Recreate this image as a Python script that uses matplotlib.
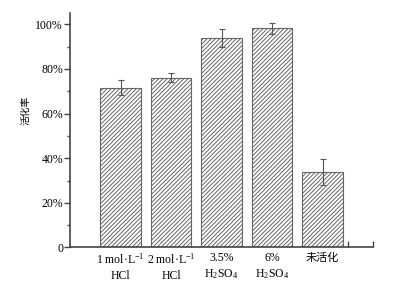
import matplotlib as mpl
mpl.use('Agg')
import matplotlib.pyplot as plt

plt.rcParams['font.family'] = ['Liberation Serif', 'Noto Sans CJK SC']
plt.rcParams['mathtext.fontset'] = 'custom'
plt.rcParams['mathtext.rm'] = 'Liberation Serif'
plt.rcParams['mathtext.it'] = 'Liberation Serif'
plt.rcParams['hatch.color'] = '#707070'
plt.rcParams['hatch.linewidth'] = 0.7

# data (percent)
labels = ['1 mol·L$^{-1}$\nHCl', '2 mol·L$^{-1}$\nHCl',
          '3.5%\nH$_2$SO$_4$', '6%\nH$_2$SO$_4$', '未活化']
rates = [71.5, 76.1, 94.0, 98.1, 33.8]
errs = [3.4, 2.2, 4.0, 2.6, 6.0]
positions = [1, 2, 3, 4, 5]
ytick_vals = [0, 20, 40, 60, 80, 100]
ytick_labels = ['0', '20%', '40%', '60%', '80%', '100%']

fig = plt.figure(figsize=(3.94, 2.89), dpi=100)
ax = fig.add_axes([0.1777, 0.1436, 0.769, 0.8114])

ax.bar(positions, rates, width=0.8, color='white', edgecolor='#666666',
       linewidth=0.8, hatch='////////', zorder=2)
ax.errorbar(positions, rates, yerr=errs, fmt='none', ecolor='#555555',
            elinewidth=0.8, capsize=2.5, capthick=0.8, zorder=3)

ax.set_xlim(0, 6)
ax.set_ylim(0, 105)

ax.spines['top'].set_visible(False)
ax.spines['right'].set_visible(False)
for s in ['left', 'bottom']:
    ax.spines[s].set_color('#444444')
    ax.spines[s].set_linewidth(1.2)

ax.set_yticks(ytick_vals)
ax.set_yticklabels(ytick_labels, fontsize=8.5)
ax.set_yticks([10, 30, 50, 70, 90], minor=True)
ax.tick_params(axis='y', which='major', direction='out', length=4,
               width=1, color='#444444', pad=1)
ax.tick_params(axis='y', which='minor', direction='out', length=2.5,
               width=1, color='#444444')

ax.set_xticks(positions)
ax.set_xticklabels(labels, fontsize=8.5, linespacing=1.3)
for t in ax.get_xticklabels():
    if t.get_text() == '未活化':
        t.set_fontfamily(['Noto Sans CJK SC'])
        t.set_fontsize(8)
ax.set_xticks([5.5, 6], minor=True)
ax.tick_params(axis='x', which='major', length=0, pad=3.5)
ax.tick_params(axis='x', which='minor', direction='in', length=4,
               width=1, color='#444444')

ax.set_ylabel('活化率', fontsize=7, family=['Noto Sans CJK SC'])
ax.yaxis.set_label_coords(-0.13, 0.586)

fig.savefig('out.png', dpi=100)
